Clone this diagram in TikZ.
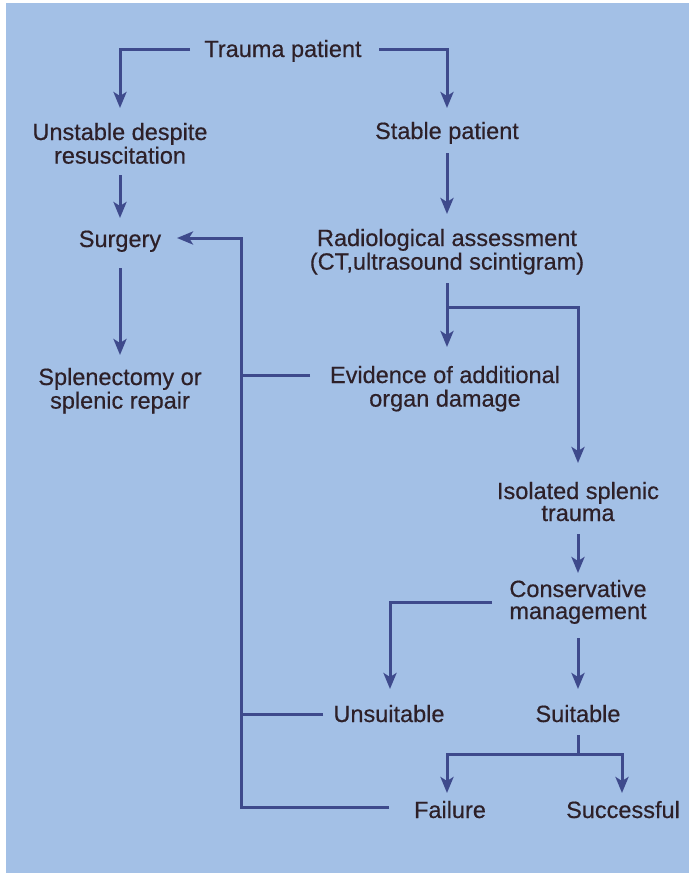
\documentclass[tikz,border=0pt]{standalone}
\usepackage{fontspec}
\setmainfont{Liberation Sans}
\newfontface\medface[FakeBold=0.5]{Liberation Sans}
\usetikzlibrary{arrows.meta}
\definecolor{bgblue}{RGB}{163,192,230}
\definecolor{lncol}{RGB}{62,74,140}
\definecolor{txcol}{RGB}{45,32,40}
\begin{document}
\begin{tikzpicture}[x=1pt,y=-1pt,
  lbl/.style={text=txcol, font=\medface\fontsize{23.5}{22}\selectfont, inner sep=0pt, anchor=base},
  conn/.style={draw=lncol, line width=3pt},
  arr/.style={conn, -{Stealth[length=16pt,width=13pt,inset=4pt]}}]
\fill[white] (0,0) rectangle (689,873);
\fill[bgblue] (6,3) rectangle (689,873);
\useasboundingbox (0,0) rectangle (689,873);

% nodes
\node[lbl] (trauma) at (283,57) {Trauma patient};
\node[lbl] (unstable) at (120,140) {\begin{tabular}[t]{@{}c@{}}Unstable despite\\resuscitation\end{tabular}};
\node[lbl] (stable) at (447,139) {Stable patient};
\node[lbl] (surgery) at (120,247) {Surgery};
\node[lbl] (radio) at (447,246) {\begin{tabular}[t]{@{}c@{}}Radiological assessment\\(CT,ultrasound scintigram)\end{tabular}};
\node[lbl] (splen) at (120,385) {\begin{tabular}[t]{@{}c@{}}Splenectomy or\\splenic repair\end{tabular}};
\node[lbl] (evid) at (445,383) {\begin{tabular}[t]{@{}c@{}}Evidence of additional\\organ damage\end{tabular}};
\node[lbl] (isol) at (578,499) {\begin{tabular}[t]{@{}c@{}}Isolated splenic\\trauma\end{tabular}};
\node[lbl] (cons) at (578,597) {\begin{tabular}[t]{@{}c@{}}Conservative\\management\end{tabular}};
\node[lbl] (unsuit) at (389,722) {Unsuitable};
\node[lbl] (suit) at (578,722) {Suitable};
\node[lbl] (fail) at (450,818) {Failure};
\node[lbl] (succ) at (623,818) {Successful};

% connector points
\coordinate (trL) at (190,49);
\coordinate (unT) at (120,108);
\coordinate (trR) at (379,49);
\coordinate (stT) at (447,108);
\coordinate (unB) at (120,175);
\coordinate (suT) at (120,218);
\coordinate (stB) at (447,153);
\coordinate (raT) at (447,214);
\coordinate (suB) at (120,268);
\coordinate (spT) at (120,355);
\coordinate (raB) at (447,283);
\coordinate (evT) at (447,347);
\coordinate (brA) at (447,307);
\coordinate (isT) at (578,463);
\coordinate (isB) at (578,534);
\coordinate (coT) at (578,573);
\coordinate (coL) at (492,602);
\coordinate (unsT) at (390,689);
\coordinate (coB) at (578,638);
\coordinate (suiT) at (578,689);
\coordinate (suiB) at (578,735);
\coordinate (brS) at (578,754);
\coordinate (failT) at (447,793);
\coordinate (succT) at (622,793);
\coordinate (faL) at (389,807);
\coordinate (fbC) at (241,238);
\coordinate (suR) at (177,238);
\coordinate (evL) at (310,375);
\coordinate (fbE) at (241,375);
\coordinate (unsL) at (323,714);
\coordinate (fbU) at (241,714);

% connectors
\draw[arr] (trL) -| (unT);
\draw[arr] (trR) -| (stT);
\draw[arr] (unB) -- (suT);
\draw[arr] (stB) -- (raT);
\draw[arr] (suB) -- (spT);
\draw[arr] (raB) -- (evT);
\draw[arr] (brA) -| (isT);
\draw[arr] (isB) -- (coT);
\draw[arr] (coL) -| (unsT);
\draw[arr] (coB) -- (suiT);
\draw[conn] (suiB) -- (brS);
\draw[arr] (brS) -| (failT);
\draw[arr] (brS) -| (succT);
\draw[arr] (faL) -| (fbC) -- (suR);
\draw[conn] (evL) -- (fbE);
\draw[conn] (unsL) -- (fbU);
\end{tikzpicture}
\end{document}
